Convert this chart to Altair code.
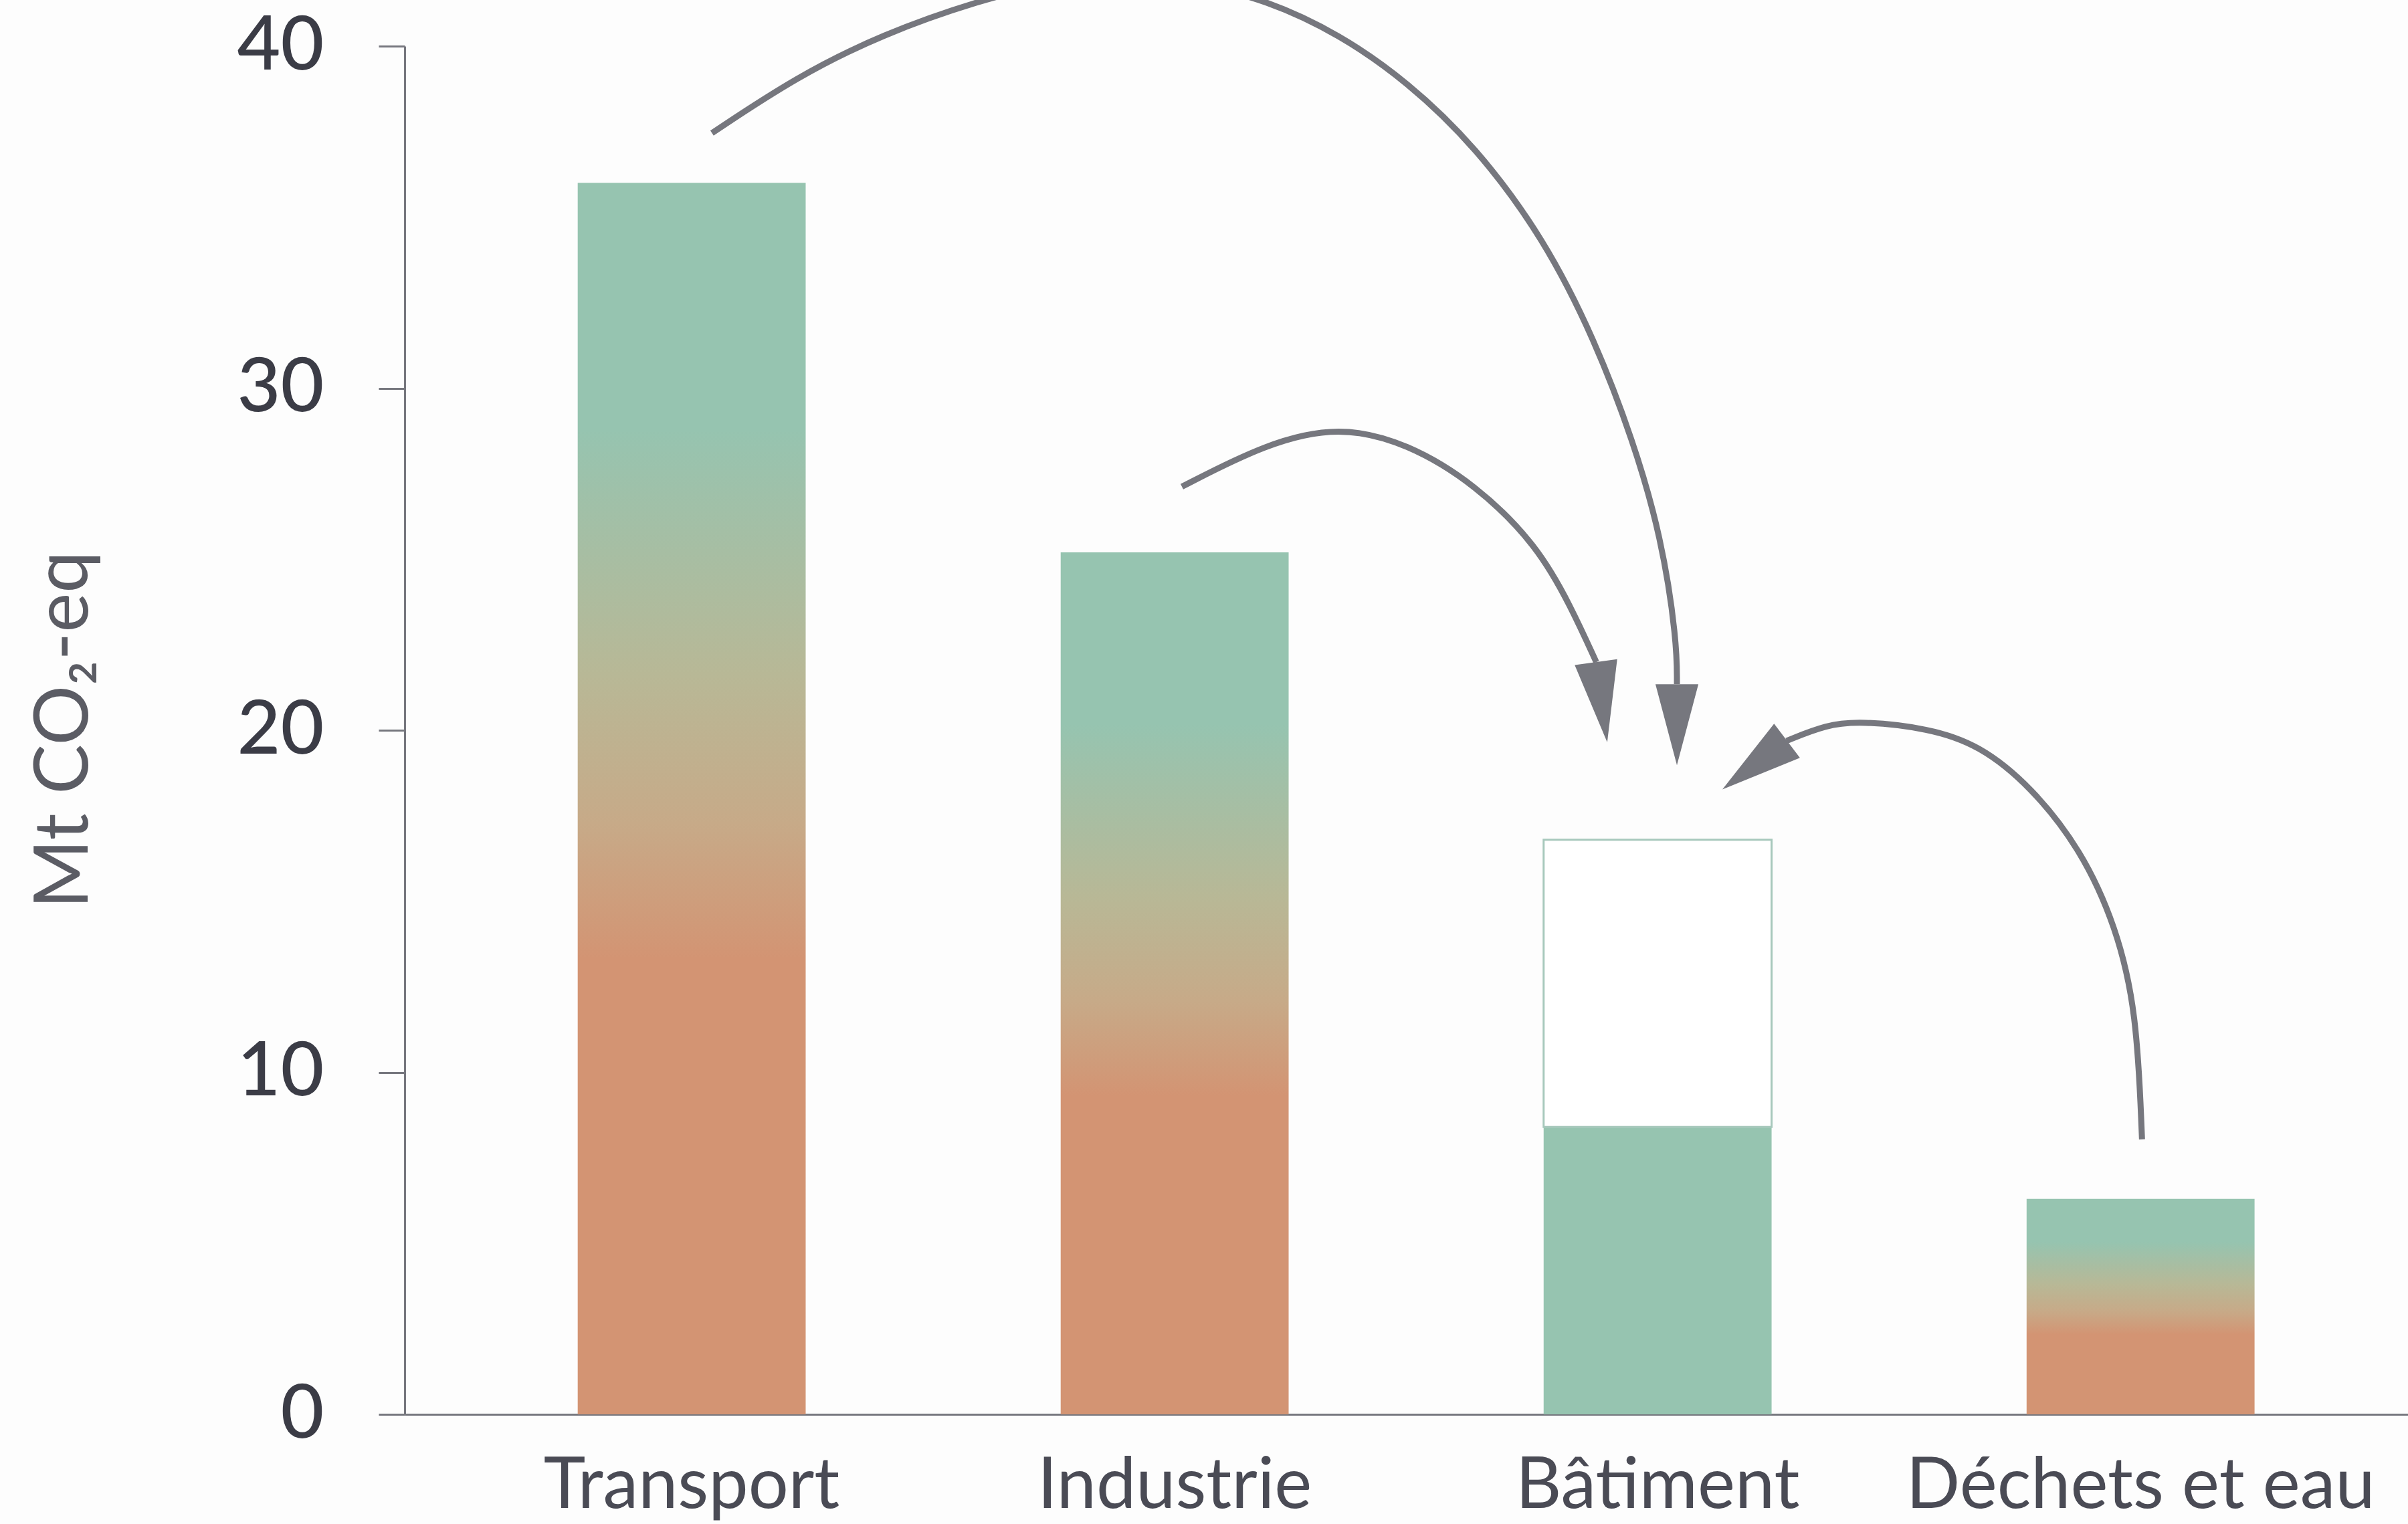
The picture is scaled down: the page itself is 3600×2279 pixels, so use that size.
import altair as alt
import pandas as pd

# ---------------- data ----------------
categories = ["Transport", "Industrie", "Bâtiment", "Déchets et eau"]
totals = [36.0, 25.2, 16.8, 6.3]
batiment_remaining = 8.4          # solid green part of the Bâtiment bar
gradient_bars = ["Transport", "Industrie", "Déchets et eau"]

# arrows, in (category index, Mt CO2-eq) units
arrow1_x = [0.042, 0.217, 0.395, 0.598, 0.742, 0.895, 1.047, 1.190, 1.341, 1.482,
            1.623, 1.765, 1.871, 1.949, 2.008, 2.040, 2.040]
arrow1_y = [37.46, 39.10, 40.35, 41.35, 41.84, 42.09, 41.84, 41.35, 40.35, 38.96,
            37.07, 34.37, 31.38, 28.48, 25.65, 22.60, 21.35]
arrow2_x = [1.015, 1.190, 1.341, 1.482, 1.623, 1.751, 1.821, 1.873]
arrow2_y = [27.12, 28.39, 28.90, 28.39, 27.19, 25.40, 23.60, 21.99]
arrow3_x = [3.003, 2.992, 2.949, 2.878, 2.773, 2.666, 2.561, 2.420, 2.349, 2.267]
arrow3_y = [8.04, 11.79, 14.27, 16.48, 18.36, 19.57, 20.06, 20.27, 20.16, 19.69]
head_x = [2.040, 1.884, 2.201]
head_y = [20.16, 20.82, 18.98]
head_angle = [0, 352, 53]

# ---------------- tables ----------------
bars = []
for c, t in zip(categories, totals):
    if c in gradient_bars:
        bars.append({"cat": c, "y0": 0.0, "y1": t, "kind": "grad"})
    else:
        bars.append({"cat": c, "y0": 0.0, "y1": batiment_remaining, "kind": "solid"})
        bars.append({"cat": c, "y0": batiment_remaining, "y1": t, "kind": "outline"})
bars_df = pd.DataFrame(bars)

arr_rows = []
for aid, (xs, ys) in enumerate([(arrow1_x, arrow1_y), (arrow2_x, arrow2_y), (arrow3_x, arrow3_y)]):
    for i, (xv, yv) in enumerate(zip(xs, ys)):
        arr_rows.append({"arrow": aid, "order": i, "x": xv, "y": yv})
arrows_df = pd.DataFrame(arr_rows)
heads_df = pd.DataFrame({"x": head_x, "y": head_y, "angle": head_angle})

# ---------------- layout ----------------
W, H = 2995, 2046
P_IN, P_OUT, ALIGN = 0.528, 0.338, 0.53
n = len(categories)
step = W / (n - P_IN + 2 * P_OUT)
start = (W - step * (n - P_IN)) * ALIGN
center0 = start + step * (1 - P_IN) / 2
x_dom = [-center0 / step, (W - center0) / step]

FONT = "Lato"
GREY = "#76777e"
GREEN = "#96c4b0"
ORANGE = "#d39473"

xscale = alt.Scale(domain=categories, paddingInner=P_IN, paddingOuter=P_OUT, align=ALIGN)
xaxis = alt.Axis(title=None, labelAngle=0, labelFont=FONT, labelFontSize=106,
                 labelFontWeight=400, labelColor="#4a4b55", labelPadding=139,
                 labelBaseline="alphabetic", labelLimit=0, ticks=False, tickSize=0,
                 domainColor=GREY, domainWidth=3)
yscale = alt.Scale(domain=[0, 40], nice=False, zero=True)
yaxis = alt.Axis(values=[0, 10, 20, 30, 40], grid=False, tickSize=39, tickWidth=3,
                 tickColor=GREY, domainColor=GREY, domainWidth=3,
                 labelFont=FONT, labelFontSize=112, labelFontWeight=500,
                 labelColor="#3b3c46", labelPadding=82,
                 title="Mt CO₂-eq", titleFont=FONT, titleFontSize=112,
                 titleFontWeight=400, titleColor="#5b5c64", titleX=-509, titleY=1022,
                 titleAngle=270, titleAlign="center", titleBaseline="middle")

def xenc():
    return alt.X("cat:N", sort=categories, scale=xscale, axis=xaxis)

def yenc(field):
    return alt.Y(field, type="quantitative", scale=yscale, axis=yaxis)

grad = alt.Gradient(gradient="linear", x1=0, x2=0, y1=0, y2=1,
                    stops=[alt.GradientStop(offset=0, color=GREEN),
                           alt.GradientStop(offset=0.20, color=GREEN),
                           alt.GradientStop(offset=0.40, color="#b8b896"),
                           alt.GradientStop(offset=0.52, color="#c7aa88"),
                           alt.GradientStop(offset=0.63, color=ORANGE),
                           alt.GradientStop(offset=1, color=ORANGE)])

base = alt.Chart(bars_df)
bar_grad = base.transform_filter(alt.datum.kind == "grad").mark_bar(color=grad).encode(
    x=xenc(), y=yenc("y0"), y2="y1")
bar_solid = base.transform_filter(alt.datum.kind == "solid").mark_bar(color=GREEN).encode(
    x=xenc(), y=yenc("y0"), y2="y1")
bar_outline = base.transform_filter(alt.datum.kind == "outline").mark_bar(
    fill="#ffffff", stroke="#a7c8bc", strokeWidth=3).encode(
    x=xenc(), y=yenc("y0"), y2="y1")
bars_layer = alt.layer(bar_grad, bar_solid, bar_outline)

ax = alt.X("x:Q", scale=alt.Scale(domain=x_dom, nice=False, zero=False), axis=None)
lines = alt.Chart(arrows_df).mark_line(color=GREY, strokeWidth=9,
                                       interpolate="basis", strokeCap="butt").encode(
    x=ax, y=yenc("y"), detail="arrow:N", order="order:Q")
heads = alt.Chart(heads_df).mark_point(shape="M-0.53,-1L0.53,-1L0,1Z", filled=True,
                                       fill=GREY, opacity=1, strokeWidth=0,
                                       size=14641).encode(
    x=ax, y=yenc("y"), angle=alt.Angle("angle:Q", scale=None))
arrows_layer = alt.layer(lines, heads)

chart = alt.layer(bars_layer, arrows_layer).resolve_scale(x="independent").properties(
    width=W, height=H,
    autosize=alt.AutoSizeParams(type="none"),
    padding={"left": 605, "top": 69, "right": 0, "bottom": 164},
    background="#fdfdfd",
).configure_view(strokeWidth=0)

chart.save("out.html", embed_options={"renderer": "svg", "actions": False})
